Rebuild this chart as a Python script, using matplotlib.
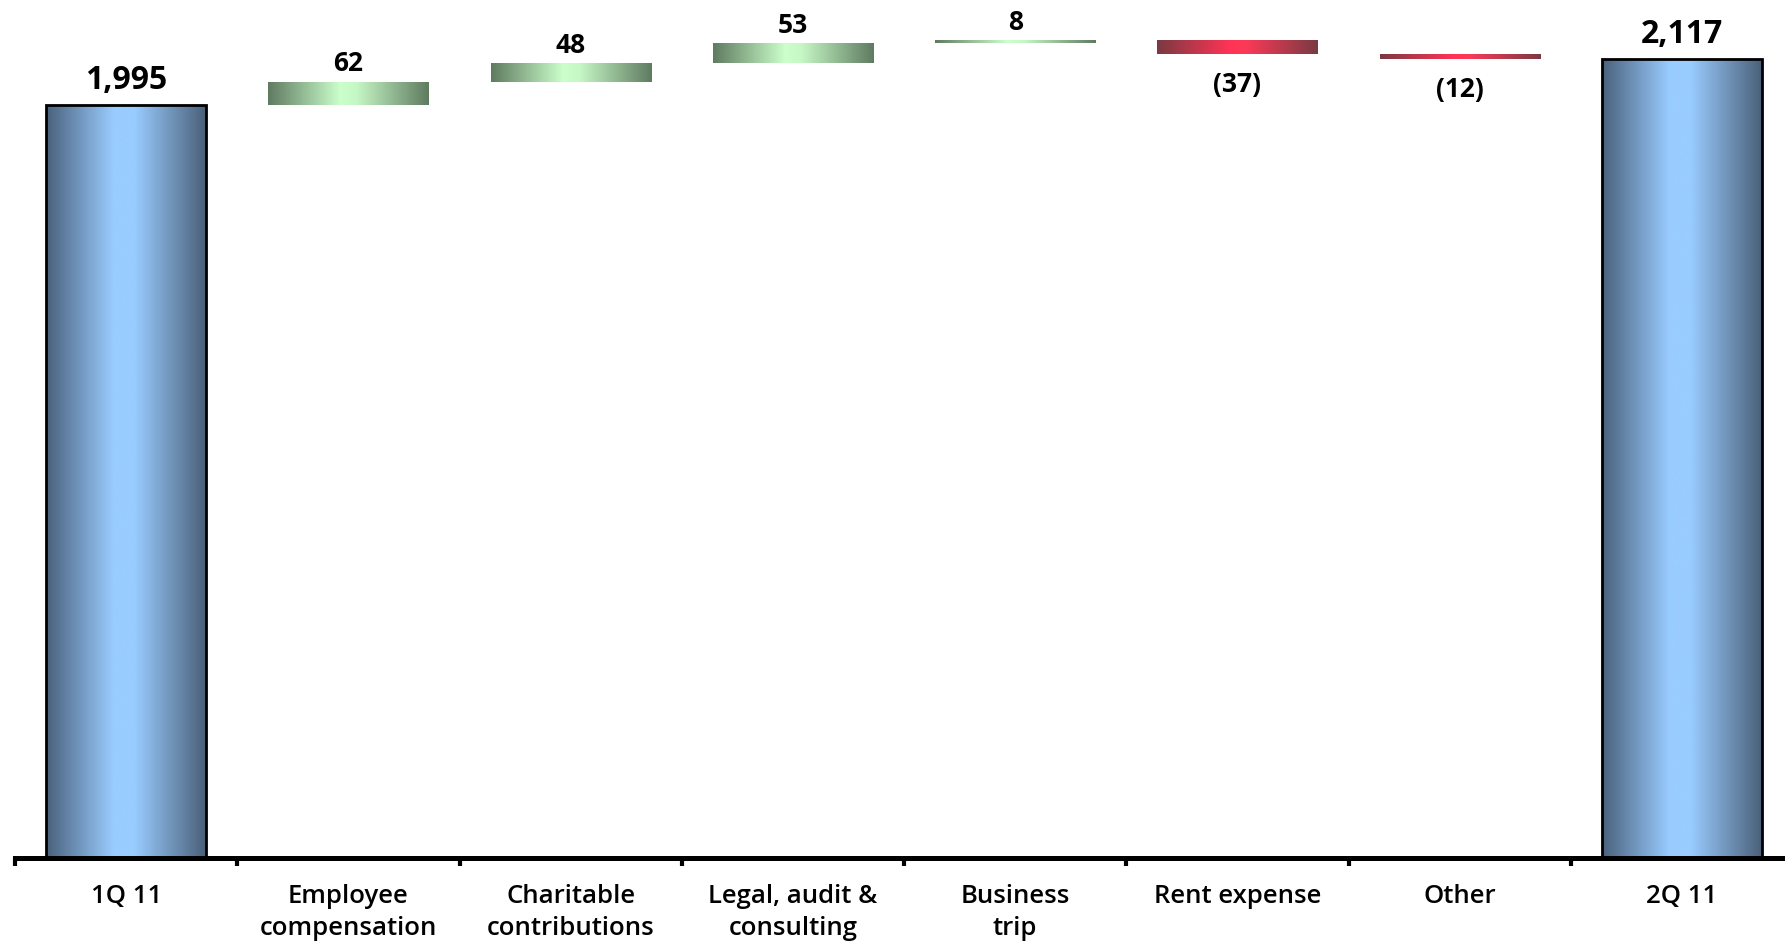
import numpy as np
import matplotlib
matplotlib.use("Agg")
import matplotlib.pyplot as plt
from matplotlib.colors import LinearSegmentedColormap

# Quarter-over-quarter bridge of operating expenses
categories = ["1Q 11", "Employee\ncompensation", "Charitable\ncontributions",
              "Legal, audit &\nconsulting", "Business\ntrip", "Rent expense",
              "Other", "2Q 11"]
start_total = 1995
changes = [62, 48, 53, 8, -37, -12]
end_total = 2117
value_labels = ["1,995", "62", "48", "53", "8", "(37)", "(12)", "2,117"]

blue_cmap = LinearSegmentedColormap.from_list(
    "blue", [(0, "#4a617c"), (0.42, "#99ccff"), (0.55, "#99ccff"), (1, "#4a5f78")])
green_cmap = LinearSegmentedColormap.from_list(
    "green", [(0, "#5f7b60"), (0.45, "#ccffcc"), (0.55, "#c6f7c6"), (1, "#5f7b60")])
red_cmap = LinearSegmentedColormap.from_list(
    "red", [(0, "#7a3a42"), (0.45, "#ff3355"), (0.55, "#fb3a58"), (1, "#7a3a42")])

W, H = 1785, 944
fig = plt.figure(figsize=(W / 100, H / 100), dpi=100)
ax = fig.add_axes([15 / W, 86 / H, 1778 / W, 1 - 86 / H])
ax.set_xlim(0, len(categories))
ax.set_ylim(0, 2273)

x = np.arange(len(categories)) + 0.5
width = 0.72

# Floating segments for each change
bottoms, heights, cmaps = [0], [start_total], [blue_cmap]
running = start_total
for c in changes:
    if c >= 0:
        bottoms.append(running)
        heights.append(c)
        cmaps.append(green_cmap)
    else:
        bottoms.append(running + c)
        heights.append(-c)
        cmaps.append(red_cmap)
    running += c
bottoms.append(0)
heights.append(end_total)
cmaps.append(blue_cmap)

grad = np.linspace(0, 1, 256).reshape(1, -1)
for i, (xi, b, h, cm) in enumerate(zip(x, bottoms, heights, cmaps)):
    is_total = i in (0, len(categories) - 1)
    bar = ax.bar(xi, h, bottom=b, width=width, facecolor="none",
                 edgecolor="black" if is_total else "none",
                 linewidth=2.0 if is_total else 0, zorder=3)[0]
    img = ax.imshow(grad, cmap=cm, aspect="auto",
                    extent=[xi - width / 2, xi + width / 2, b, b + h],
                    zorder=2, interpolation="bicubic")
    img.set_clip_path(bar)

# Value labels
for i, (xi, b, h, lab) in enumerate(zip(x, bottoms, heights, value_labels)):
    is_total = i in (0, len(categories) - 1)
    if lab.startswith("("):
        ax.annotate(lab, (xi, b), xytext=(0, -12), textcoords="offset points",
                    ha="center", va="top", fontsize=19, fontweight="bold",
                    family="Open Sans")
    else:
        ax.annotate(lab, (xi, b + h), xytext=(0, 6 if is_total else 3),
                    textcoords="offset points", ha="center", va="bottom",
                    fontsize=23 if is_total else 19, fontweight="bold",
                    family="Open Sans")

ax.set_aspect("auto")
for s in ("top", "right", "left"):
    ax.spines[s].set_visible(False)
ax.spines["bottom"].set_linewidth(3.6)
ax.set_yticks([])
ax.set_xticks(x)
ax.set_xticklabels(categories, fontsize=18.5, family="Open Sans",
                   fontweight="semibold", linespacing=1.35)
ax.tick_params(axis="x", which="major", length=0, pad=19)
ax.set_xticks(np.arange(len(categories)), minor=True)
ax.tick_params(axis="x", which="minor", length=6, width=3, direction="out")

fig.savefig("out.png", dpi=100)
